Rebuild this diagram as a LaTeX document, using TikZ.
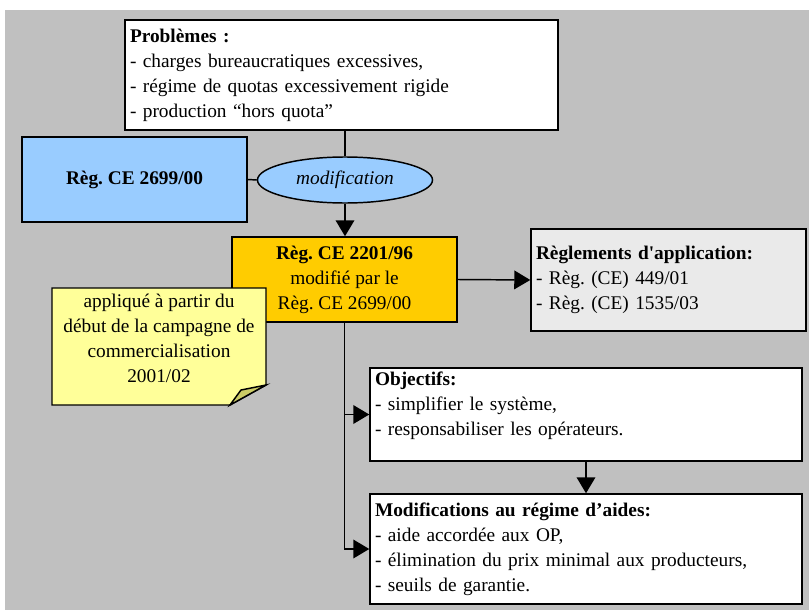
\documentclass[tikz,border=0pt]{standalone}
\usepackage{fontspec}
\setmainfont{Liberation Serif}
\usepackage{xcolor}
\usetikzlibrary{arrows.meta,shapes.geometric}
\definecolor{fondgris}{HTML}{C0C0C0}
\definecolor{bleuclair}{HTML}{99CCFF}
\definecolor{orangeCE}{HTML}{FFCC00}
\definecolor{jaunenote}{HTML}{FFFF99}
\definecolor{plinote}{HTML}{CCCC66}
\definecolor{grisclair}{HTML}{EAEAEA}
\frenchspacing

\begin{document}
\begin{tikzpicture}[x=0.75pt,y=-0.75pt,>={Triangle[length=12pt,width=14pt]},line width=1.1pt,
font=\fontsize{14.5}{18.75}\selectfont,
boite/.style={draw,fill=white,inner xsep=3.75pt,inner ysep=0pt,align=left},
bloc/.style={draw,inner sep=0pt,align=center,minimum width=168.75pt,minimum height=63.75pt}]
\useasboundingbox(0,0)rectangle(809,610);
\fill[fondgris](5,10)rectangle(809,610);
\node[boite,text width=317.25pt,minimum height=82.5pt](prob)at(341.5,75){\textbf{Problèmes :}\\
- charges bureaucratiques excessives,\\
- régime de quotas excessivement rigide\\
- production “hors quota”};
\node[bloc,fill=bleuclair,font=\fontsize{14.5}{18.75}\selectfont\bfseries](r2699)at(134.5,179.5){Règ. CE 2699/00};
\node[draw,ellipse,fill=bleuclair,inner sep=0pt,minimum width=131.25pt,minimum height=34.5pt,
font=\fontsize{14.5}{18.75}\selectfont\itshape](modif)at(345,180){modification};
\node[bloc,fill=orangeCE](r2201)at(344.5,279.5){\textbf{Règ. CE 2201/96}\\modifié par le\\Règ. CE 2699/00};
\node[boite,fill=grisclair,text width=198.75pt,minimum height=76.5pt](regapp)at(668.5,280){\textbf{Règlements d\textquotesingle application:}\\
- Règ. (CE) 449/01\\
- Règ. (CE) 1535/03};
\filldraw[fill=jaunenote](52,288)--(266,288)--(266,385)--(230,405)--(52,405)--cycle;
\filldraw[fill=plinote](266,385)--(241,390)--(230,405)--cycle;
\node[align=center,inner sep=0pt](note)at(159,338){appliqué à partir du\\début de la campagne de\\commercialisation\\2001/02};
\node[boite,text width=316.5pt,minimum height=69.75pt](obj)at(586,414.5){\textbf{Objectifs:}\\
- simplifier le système,\\
- responsabiliser les opérateurs.\\[-8pt]\strut};
\node[boite,text width=316.5pt,minimum height=82.5pt](modifs)at(586,549){\textbf{Modifications au régime d’aides:}\\
- aide accordée aux OP,\\
- élimination du prix minimal aux producteurs,\\
- seuils de garantie.};
\draw(modif.north)--(modif.north|-prob.south);
\draw(r2699.east)--(modif.west);
\draw[->](modif.south)--(modif.south|-r2201.north);
\draw[->](r2201.east)--(regapp.west);
\draw[->](r2201.south)|-(obj.west);
\draw[->](r2201.south)|-(modifs.west);
\draw[->](obj.south)--(modifs.north);
\end{tikzpicture}
\end{document}
